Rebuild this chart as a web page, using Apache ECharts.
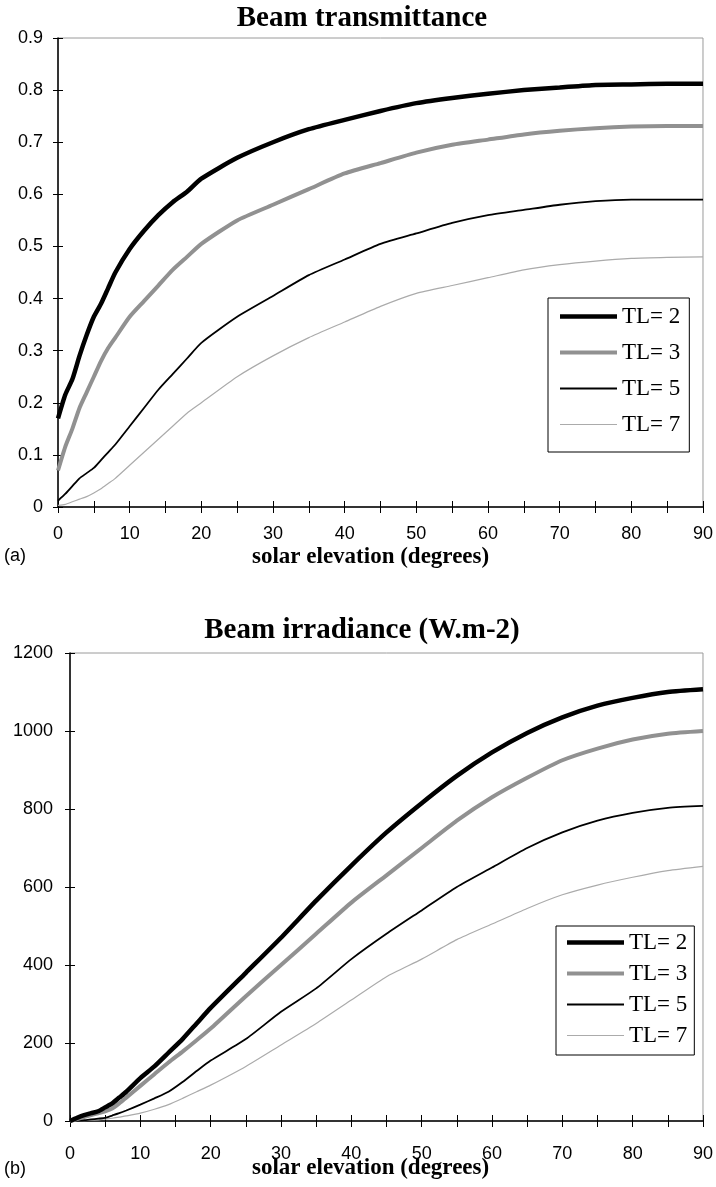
<!DOCTYPE html>
<html>
<head>
<meta charset="utf-8">
<script src="https://cdn.jsdelivr.net/npm/echarts@6/dist/echarts.min.js"></script>
<style>
  html, body { margin: 0; padding: 0; background: #fff; }
  #chartA { position: absolute; left: 0; top: 0; width: 716px; height: 580px; }
  #chartB { position: absolute; left: 0; top: 580px; width: 716px; height: 607px; }
</style>
</head>
<body>
<div id="chartA"></div>
<div id="chartB"></div>
<script>
// solar elevation (degrees) where the curves were read
var elevation = [0, 1, 2, 3, 4, 5, 6, 7, 8, 10, 12, 14, 16, 18, 20, 25, 30, 35, 40, 45, 50, 55, 60, 65, 70, 75, 80, 85, 90];

// (a) beam transmittance
var transTL2 = [0.17, 0.215, 0.245, 0.29, 0.33, 0.365, 0.39, 0.42, 0.45, 0.495, 0.53, 0.56, 0.585, 0.605, 0.63, 0.67, 0.70, 0.725, 0.743, 0.76, 0.775, 0.785, 0.793, 0.80, 0.805, 0.81, 0.811, 0.812, 0.812];
var transTL3 = [0.07, 0.115, 0.15, 0.19, 0.22, 0.25, 0.28, 0.305, 0.325, 0.365, 0.395, 0.425, 0.455, 0.48, 0.505, 0.55, 0.58, 0.61, 0.64, 0.66, 0.68, 0.695, 0.705, 0.715, 0.722, 0.727, 0.73, 0.731, 0.731];
var transTL5 = [0.012, 0.025, 0.04, 0.055, 0.065, 0.075, 0.09, 0.105, 0.12, 0.155, 0.19, 0.225, 0.255, 0.285, 0.315, 0.365, 0.405, 0.445, 0.475, 0.505, 0.525, 0.545, 0.56, 0.57, 0.58, 0.587, 0.59, 0.59, 0.59];
var transTL7 = [0.003, 0.005, 0.01, 0.015, 0.02, 0.027, 0.035, 0.045, 0.055, 0.08, 0.105, 0.13, 0.155, 0.18, 0.2, 0.25, 0.29, 0.325, 0.355, 0.385, 0.41, 0.425, 0.44, 0.455, 0.465, 0.472, 0.477, 0.479, 0.48];

// (b) beam irradiance W.m-2
var irrTL2 = [0, 8, 15, 20, 25, 35, 45, 60, 75, 110, 140, 175, 210, 250, 290, 380, 470, 565, 655, 740, 815, 885, 945, 995, 1035, 1065, 1085, 1100, 1107];
var irrTL3 = [0, 5, 10, 15, 20, 25, 32, 45, 60, 90, 120, 150, 178, 207, 237, 320, 400, 480, 560, 630, 700, 770, 830, 880, 925, 955, 978, 993, 1000];
var irrTL5 = [0, 1, 2, 4, 6, 8, 14, 20, 27, 42, 58, 75, 100, 128, 155, 210, 280, 340, 415, 480, 540, 600, 650, 700, 740, 770, 790, 803, 808];
var irrTL7 = [0, 0, 1, 2, 3, 5, 7, 10, 13, 20, 30, 42, 58, 75, 92, 140, 195, 250, 310, 370, 415, 465, 505, 545, 580, 605, 625, 642, 653];

var seriesNames = ['TL= 2', 'TL= 3', 'TL= 5', 'TL= 7'];
var xTickLabels = [0, 10, 20, 30, 40, 50, 60, 70, 80, 90];

var lineStyles = [
    { color: '#000', width: 4.5 },
    { color: '#919191', width: 4 },
    { color: '#000', width: 1.8 },
    { color: '#ababab', width: 1.2 }
];

var sansFont = 'Liberation Sans';
var serifFont = 'Liberation Serif';

// flat bar of the given thickness inside a 57x14 box, so legend keys differ in weight
function legendIcon(t) {
    var a = 7 - t / 2, b = 7 + t / 2;
    return 'path://M0,0L0,0M0,' + a + 'L57,' + a + 'L57,' + b + 'L0,' + b + 'ZM57,14L57,14';
}

function makeSeries(arrays) {
    return arrays.map(function (arr, i) {
        return {
            name: seriesNames[i],
            type: 'line',
            symbol: 'none',
            smooth: 0.2,
            z: 10 - i,
            lineStyle: { color: lineStyles[i].color, width: lineStyles[i].width },
            itemStyle: { color: lineStyles[i].color },
            data: elevation.map(function (e, k) { return [e, arr[k]]; })
        };
    });
}

function buildOption(cfg) {
    var xBase = {
        type: 'value', min: 0, max: 90, interval: 5, position: 'bottom',
        splitLine: { show: false }
    };
    var yBase = {
        type: 'value', min: 0, max: cfg.yMax, interval: cfg.yStep, position: 'left',
        splitLine: { show: false }
    };
    return {
        animation: false,
        backgroundColor: '#fff',
        title: {
            text: cfg.title,
            left: 362, top: cfg.titleTop, textAlign: 'center', padding: 0,
            textStyle: { fontFamily: serifFont, fontWeight: 'bold', fontSize: 29, color: '#000' }
        },
        grid: {
            left: cfg.grid.left, top: cfg.grid.top, right: cfg.grid.right, bottom: cfg.grid.bottom,
            show: true, borderColor: '#9a9a9a', borderWidth: 1, backgroundColor: '#fff'
        },
        legend: {
            orient: 'vertical',
            left: cfg.legend.left, top: cfg.legend.top,
            padding: cfg.legend.padding,
            itemGap: cfg.legend.gap,
            itemWidth: 57, itemHeight: 14, itemTextGap: 5,
            borderColor: '#000', borderWidth: 1, backgroundColor: '#fff',
            data: seriesNames.map(function (n, i) {
                return {
                    name: n,
                    icon: legendIcon(lineStyles[i].width),
                    itemStyle: { color: lineStyles[i].color, borderWidth: 0 }
                };
            }),
            textStyle: { fontFamily: serifFont, fontSize: 23, color: '#000' }
        },
        xAxis: [
            Object.assign({}, xBase, {
                axisLine: { show: true, lineStyle: { color: '#000', width: 1.5 } },
                axisTick: { show: true, length: 6, lineStyle: { color: '#000' } },
                axisLabel: {
                    margin: cfg.xLabelMargin, fontFamily: sansFont, fontSize: 18, color: '#000',
                    formatter: function (v) { return xTickLabels.indexOf(v) >= 0 ? String(v) : ''; }
                }
            }),
            Object.assign({}, xBase, {
                axisLine: { show: false },
                axisTick: { show: true, inside: true, length: 6, lineStyle: { color: '#000' } },
                axisLabel: { show: false }
            })
        ],
        yAxis: [
            Object.assign({}, yBase, {
                axisLine: { show: true, lineStyle: { color: '#000', width: 1.5 } },
                axisTick: { show: true, length: 5, lineStyle: { color: '#000' } },
                axisLabel: {
                    margin: cfg.yLabelMargin, fontFamily: sansFont, fontSize: 18, color: '#000',
                    formatter: cfg.yFormat
                }
            }),
            Object.assign({}, yBase, {
                axisLine: { show: false },
                axisTick: { show: true, inside: true, length: 5, lineStyle: { color: '#000' } },
                axisLabel: { show: false }
            })
        ],
        graphic: [
            {
                type: 'text', left: cfg.xName.x, top: cfg.xName.y,
                style: { text: 'solar elevation (degrees)', fill: '#000', font: 'bold 23px "Liberation Serif"' }
            },
            {
                type: 'text', left: 4, top: cfg.panel.y,
                style: { text: cfg.panel.text, fill: '#000', font: '18px "Liberation Sans"' }
            }
        ],
        series: makeSeries(cfg.data)
    };
}

var chartA = echarts.init(document.getElementById('chartA'));
chartA.setOption(buildOption({
    title: 'Beam transmittance',
    titleTop: 4,
    yMax: 0.9, yStep: 0.1,
    yFormat: function (v) { return String(+v.toFixed(1)); },
    grid: { left: 58, top: 38, right: 11, bottom: 73 },
    legend: { left: 548, top: 298, padding: [7, 9, 16, 12], gap: 13 },
    xLabelMargin: 18, yLabelMargin: 15,
    xName: { x: 252, y: 546 },
    panel: { text: '(a)', y: 547 },
    data: [transTL2, transTL3, transTL5, transTL7]
}));

var chartB = echarts.init(document.getElementById('chartB'));
chartB.setOption(buildOption({
    title: 'Beam irradiance (W.m-2)',
    titleTop: 36,
    yMax: 1200, yStep: 200,
    yFormat: function (v) { return String(v); },
    grid: { left: 70, top: 73, right: 13, bottom: 66 },
    legend: { left: 556, top: 346, padding: [5, 7, 8, 11], gap: 8 },
    xLabelMargin: 24, yLabelMargin: 17,
    xName: { x: 252, y: 577 },
    panel: { text: '(b)', y: 580 },
    data: [irrTL2, irrTL3, irrTL5, irrTL7]
}));
</script>
</body>
</html>
